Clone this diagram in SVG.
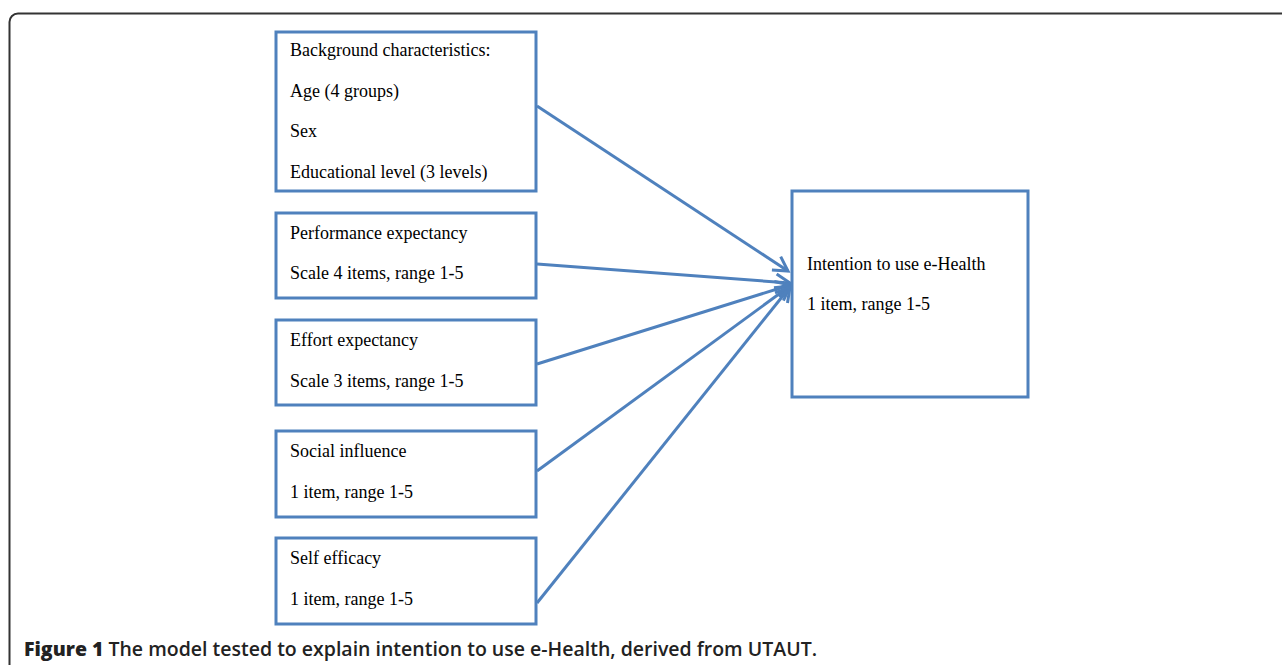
<svg xmlns="http://www.w3.org/2000/svg" width="1282" height="665" viewBox="0 0 1282 665">
<style>
.box{fill:#fff;stroke:#4f81bd;stroke-width:3}
.t{font-family:"Liberation Serif","Times New Roman",serif;font-size:18px;fill:#000}
.conn line{stroke:#4f81bd;stroke-width:3;fill:none}
.cap{font-family:"Open Sans","Liberation Sans",sans-serif;font-size:20px;fill:#222}
</style>
<defs>
<marker id="arr" viewBox="0 0 20 20" refX="17" refY="10" markerWidth="20" markerHeight="20" markerUnits="userSpaceOnUse" orient="auto">
<polyline points="3,2 17,10 3,18" fill="none" stroke="#4f81bd" stroke-width="3" stroke-linejoin="miter"/>
</marker>
</defs>
<rect width="1282" height="665" fill="#fff"/>
<path d="M9.5,665 V22 A8.5,8.5 0 0 1 18,13.5 H1282" fill="none" stroke="#333" stroke-width="2"/>
<g id="connectors" class="conn">
<line x1="537" y1="106" x2="788" y2="271" marker-end="url(#arr)"/>
<line x1="537" y1="264" x2="790" y2="283" marker-end="url(#arr)"/>
<line x1="537" y1="364" x2="790" y2="285" marker-end="url(#arr)"/>
<line x1="537" y1="471" x2="790" y2="286" marker-end="url(#arr)"/>
<line x1="537" y1="603" x2="790" y2="287" marker-end="url(#arr)"/>
</g>
<g id="background">
<rect class="box" x="276" y="32" width="260" height="159"/>
<text class="t" x="290" y="56">Background characteristics:</text>
<text class="t" x="290" y="97">Age (4 groups)</text>
<text class="t" x="290" y="137">Sex</text>
<text class="t" x="290" y="178">Educational level (3 levels)</text>
</g>
<g id="performance">
<rect class="box" x="276" y="213" width="260" height="85"/>
<text class="t" x="290" y="239">Performance expectancy</text>
<text class="t" x="290" y="279">Scale 4 items, range 1-5</text>
</g>
<g id="effort">
<rect class="box" x="276" y="320" width="260" height="85"/>
<text class="t" x="290" y="346">Effort expectancy</text>
<text class="t" x="290" y="387">Scale 3 items, range 1-5</text>
</g>
<g id="social">
<rect class="box" x="276" y="431" width="260" height="86"/>
<text class="t" x="290" y="457">Social influence</text>
<text class="t" x="290" y="498">1 item, range 1-5</text>
</g>
<g id="selfefficacy">
<rect class="box" x="276" y="538" width="260" height="86"/>
<text class="t" x="290" y="564">Self efficacy</text>
<text class="t" x="290" y="605">1 item, range 1-5</text>
</g>
<g id="intention">
<rect class="box" x="792" y="191" width="236" height="206"/>
<text class="t" x="807" y="270">Intention to use e-Health</text>
<text class="t" x="807" y="310">1 item, range 1-5</text>
</g>
<text class="cap" x="24" y="656" textLength="793" lengthAdjust="spacingAndGlyphs"><tspan font-weight="800">Figure 1</tspan><tspan font-weight="600"> The model tested to explain intention to use e-Health, derived from UTAUT.</tspan></text>
</svg>
